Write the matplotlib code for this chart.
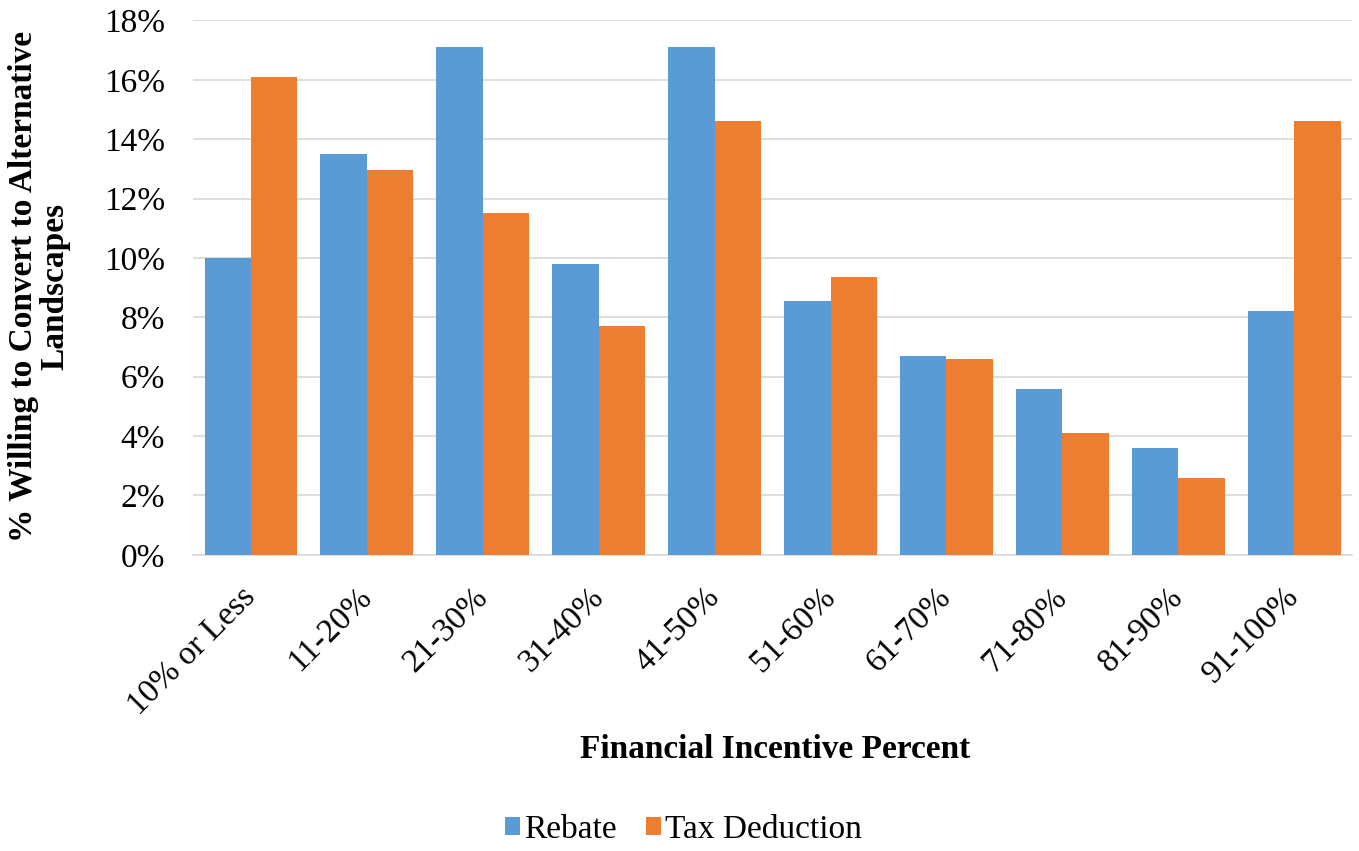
import matplotlib
matplotlib.use("Agg")
import matplotlib.pyplot as plt
import numpy as np
from matplotlib.ticker import PercentFormatter

plt.rcParams['font.family'] = ['Liberation Serif', 'DejaVu Serif']

categories = ["10% or Less", "11-20%", "21-30%", "31-40%", "41-50%",
              "51-60%", "61-70%", "71-80%", "81-90%", "91-100%"]
rebate = [10.0, 13.5, 17.1, 9.8, 17.1, 8.55, 6.7, 5.6, 3.6, 8.2]
tax_deduction = [16.1, 12.95, 11.5, 7.7, 14.6, 9.35, 6.6, 4.1, 2.6, 14.6]

fig = plt.figure(figsize=(13.59, 8.51), dpi=100)
ax = fig.add_axes([0.142, 0.348, 0.853, 0.628])

x = np.arange(len(categories))
w = 0.4
ax.bar(x - w / 2, rebate, w, color='#5b9bd5', label='Rebate', zorder=3)
ax.bar(x + w / 2, tax_deduction, w, color='#ed7d31', label='Tax Deduction', zorder=3)

ax.set_xlim(-0.5, len(categories) - 0.5)
ax.set_ylim(0, 18)
ax.set_yticks(np.arange(0, 19, 2))
ax.yaxis.set_major_formatter(PercentFormatter(decimals=0))
ax.grid(axis='y', color='#d9d9d9', linewidth=1.2, zorder=0)
for s in ['top', 'right', 'left']:
    ax.spines[s].set_visible(False)
ax.spines['bottom'].set_color('#d9d9d9')
ax.spines['bottom'].set_linewidth(1.2)
ax.tick_params(axis='y', length=0, labelsize=24, pad=20)
ax.tick_params(axis='x', length=0, labelsize=24, pad=27)

ax.set_xticks(x)
ax.set_xticklabels(categories, rotation=45, ha='right', va='center',
                   rotation_mode='anchor')

# axis titles placed on the figure
fig.text(0.57, 0.119, 'Financial Incentive Percent', fontsize=24, fontweight='bold',
         ha='center', va='center')
fig.text(0.029, 0.663, '% Willing to Convert to Alternative\nLandscapes', fontsize=24,
         fontweight='bold', rotation=90, ha='center', va='center',
         multialignment='center', linespacing=1.0)

fig.legend(loc='center', bbox_to_anchor=(0.503, 0.025), ncol=2, frameon=False,
           fontsize=24, handlelength=0.45, handleheight=0.45, handletextpad=0.1,
           columnspacing=0.9)

fig.savefig('out.png', dpi=100)
